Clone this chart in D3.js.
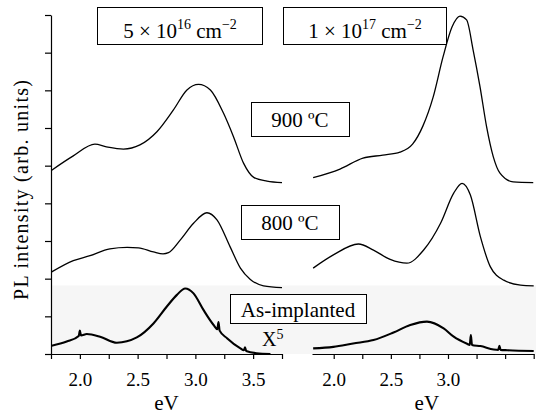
<!DOCTYPE html>
<html><head><meta charset="utf-8">
<script src="https://cdn.jsdelivr.net/npm/d3@7"></script>
<style>body{margin:0;background:#fff}svg{display:block}</style>
</head><body><svg id="c" width="543" height="415"></svg>
<script>
// ---- data (eV, arbitrary units) ----
const left900E  = [1.756,1.943,2.13,2.23,2.377,2.52,2.667,2.81,2.927,3.027,3.13,3.244,3.33,3.418,3.505,3.62,3.75];
const left900V  = [4.88,5.26,5.57,5.50,5.44,5.55,5.90,6.48,7.01,7.16,7.01,6.39,5.77,5.06,4.69,4.59,4.55];
const left800E  = [1.756,1.943,2.088,2.26,2.41,2.507,2.637,2.72,2.767,2.87,2.984,3.10,3.187,3.30,3.39,3.476,3.59,3.75];
const left800V  = [2.18,2.48,2.61,2.79,2.83,2.82,2.71,2.66,2.69,3.03,3.47,3.75,3.56,2.85,2.28,1.98,1.81,1.76];
const leftAsE   = [1.756,1.886,1.99,2.0,2.01,2.06,2.175,2.32,2.493,2.637,2.753,2.84,2.912,2.984,3.07,3.158,3.19,3.20,3.21,3.274,3.39,3.42,3.43,3.44,3.53,3.65];
const leftAsV   = [0.22,0.33,0.48,0.62,0.49,0.53,0.46,0.30,0.44,0.81,1.26,1.57,1.74,1.61,1.17,0.77,0.66,0.85,0.62,0.42,0.15,0.10,0.18,0.08,0.02,0.0];
const right900E = [1.82,2.055,2.256,2.43,2.58,2.69,2.78,2.87,2.956,3.035,3.105,3.163,3.22,3.28,3.338,3.396,3.455,3.57,3.746];
const right900V = [4.68,4.91,5.20,5.28,5.36,5.57,6.05,6.82,7.88,8.68,8.97,8.87,8.07,7.10,6.03,5.24,4.80,4.57,4.55];
const right800E = [1.82,1.997,2.216,2.348,2.494,2.64,2.787,2.935,3.05,3.123,3.196,3.284,3.37,3.488,3.635,3.75];
const right800V = [2.28,2.63,2.92,2.76,2.51,2.41,2.76,3.47,4.27,4.53,4.22,3.11,2.32,1.96,1.83,1.81];
const rightAsE  = [1.82,1.997,2.17,2.348,2.523,2.67,2.816,2.962,3.05,3.167,3.19,3.20,3.21,3.284,3.40,3.44,3.45,3.46,3.52,3.75];
const rightAsV  = [0.15,0.19,0.28,0.37,0.57,0.77,0.86,0.68,0.46,0.27,0.24,0.50,0.24,0.21,0.12,0.11,0.22,0.11,0.10,0.08];
const leftTicks = [1.75,2.0,2.25,2.5,2.75,3.0,3.25,3.5,3.75];
const leftTickLabels = ["2.0","2.5","3.0","3.5"];
const rightTicks = [2.0,2.25,2.5,2.75,3.0,3.25,3.5,3.75];
const rightTickLabels = ["2.0","2.5","3.0"];
const yTicks = [0,1,2,3,4,5,6,7,8,9];
const xTitle = "eV";
const yTitle = "PL intensity (arb. units)";

const FONT = "Liberation Serif";
const svg = d3.select("#c");
const xL = d3.scaleLinear().domain([1.75,3.75]).range([51,282]);
const xR = d3.scaleLinear().domain([1.81,3.75]).range([312,533.7]);
const y  = d3.scaleLinear().domain([0,9]).range([354,15]);

function txt(x,yy,s,size,anchor){
  return svg.append("text").attr("x",x).attr("y",yy).attr("text-anchor",anchor||"middle")
    .attr("font-family",FONT).attr("font-size",size).attr("fill","#000").text(s);
}

// light band behind as-implanted spectra
svg.append("rect").attr("x",52).attr("y",y(1.82)).attr("width",484).attr("height",354-y(1.82)).attr("fill","#f6f6f6");

const fmt = labels => d => { const s=d3.format(".1f")(d); return (Math.abs(d*2-Math.round(d*2))<1e-6 && labels.includes(s)) ? s : ""; };

const gxL = svg.append("g").attr("transform","translate(0,354)")
  .call(d3.axisBottom(xL).tickValues(leftTicks).tickSize(5).tickSizeOuter(0).tickFormat(fmt(leftTickLabels)));
const gxR = svg.append("g").attr("transform","translate(0,354)")
  .call(d3.axisBottom(xR).tickValues(rightTicks).tickSize(5).tickSizeOuter(0).tickFormat(fmt(rightTickLabels)));
const gy = svg.append("g").attr("transform","translate(51,0)")
  .call(d3.axisLeft(y).tickValues(yTicks).tickSize(6).tickSizeOuter(0).tickFormat(""));
[gxL,gxR,gy].forEach(g=>{
  g.attr("font-family",FONT).attr("font-size",19);
  g.selectAll("path,line").attr("stroke","#000").attr("stroke-width",1.2);
  g.selectAll("text").attr("fill","#000").attr("dy","1.25em");
});

// axis titles
txt((xL(1.75)+xL(3.75))/2,410,xTitle,21);
txt((xR(1.81)+xR(3.75))/2+4,410,xTitle,21);
txt(0,0,yTitle,20).attr("transform","translate(28,190) rotate(-90)").attr("textLength",220).attr("lengthAdjust","spacing");

// curves
function draw(xs, es, vs, w){
  const pts = es.map((e,i)=>[e,vs[i]]);
  svg.append("path").datum(pts)
    .attr("d", d3.line().x(d=>xs(d[0])).y(d=>y(d[1])).curve(d3.curveMonotoneX))
    .attr("fill","none").attr("stroke","#000").attr("stroke-width",w).attr("stroke-linejoin","round");
}
draw(xL,left900E,left900V,1.3);
draw(xL,left800E,left800V,1.3);
draw(xL,leftAsE,leftAsV,2.1);
draw(xR,right900E,right900V,1.3);
draw(xR,right800E,right800V,1.3);
draw(xR,rightAsE,rightAsV,2.1);

// labelled boxes
function box(x0,y0,x1,y1){
  svg.append("rect").attr("x",x0+0.5).attr("y",y0+0.5).attr("width",x1-x0).attr("height",y1-y0)
    .attr("fill","#fff").attr("stroke","#000").attr("stroke-width",1);
}
box(97,7,262,44);
box(283,7,446,44);
box(251,102,349,136);
box(241,205,339,239);
box(230,294,366,323);

function sci(cx, base, mant, exp){
  const t = txt(cx,base,"",21);
  t.append("tspan").text(mant+" \u00d7 10");
  t.append("tspan").attr("dy",-9).attr("font-size",14).text(exp);
  t.append("tspan").attr("dy",9).text(" cm");
  t.append("tspan").attr("dy",-9).attr("font-size",14).text("\u22122");
}
sci(180,38,"5","16");
sci(365,38,"1","17");
txt(300,127,"900 \u00baC",21);
txt(290,230,"800 \u00baC",21);
txt(298,317,"As-implanted",21);
const xt = txt(262,346,"",20,"start");
xt.append("tspan").text("X");
xt.append("tspan").attr("dy",-7).attr("font-size",14).text("5");
</script></body></html>
